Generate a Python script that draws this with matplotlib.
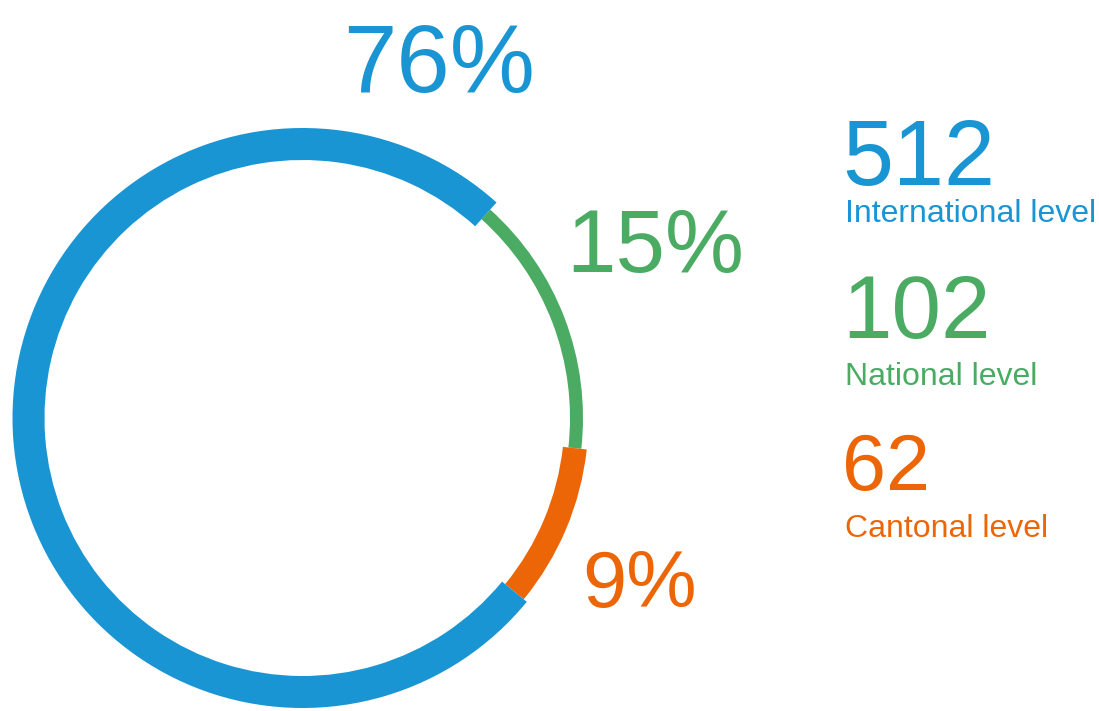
import matplotlib
matplotlib.use("Agg")
import matplotlib.pyplot as plt

categories = ["International level", "National level", "Cantonal level"]
counts = [512, 102, 62]
colors = ["#1a95d3", "#4bab63", "#ec6608"]
ring_widths = [32, 13, 24]  # pixel widths of each segment

plt.rcParams['font.family'] = ['Liberation Sans', 'DejaVu Sans']

W, H = 1099, 711
fig = plt.figure(figsize=(W / 100, H / 100), dpi=100)
ax = fig.add_axes([0, 0, 1, 1])

cx, cy = 302.5, H - 418
r_mid = 274

# order clockwise from start angle: national, cantonal, international
order = [1, 2, 0]
wedges, _ = ax.pie([counts[i] for i in order], colors=[colors[i] for i in order],
                   startangle=48, counterclock=False, center=(cx, cy), radius=r_mid,
                   frame=True)
ax.set_xlim(0, W)
ax.set_ylim(0, H)
ax.set_aspect('equal')
ax.axis('off')
for w, i in zip(wedges, order):
    w.set_radius(r_mid + ring_widths[i] / 2)
    w.set_width(ring_widths[i])
    w.set_linewidth(0)

total = sum(counts)
pct = [round(100 * c / total) for c in counts]

def ty(p):
    return H - p

# percentage labels
ax.text(343, ty(92), f"{pct[0]}%", color=colors[0], fontsize=69, ha='left', va='baseline')
ax.text(566, ty(272), f"{pct[1]}%", color=colors[1], fontsize=64, ha='left', va='baseline')
ax.text(582, ty(607), f"{pct[2]}%", color=colors[2], fontsize=57, ha='left', va='baseline')

# legend-like numbers
num_base = [185, 338, 490]
num_size = [66, 64, 57]
lab_base = [222, 385, 537]
for i in range(3):
    ax.text(842, ty(num_base[i]), str(counts[i]), color=colors[i], fontsize=num_size[i],
            ha='left', va='baseline')
    ax.text(845, ty(lab_base[i]), categories[i], color=colors[i], fontsize=23,
            ha='left', va='baseline')

fig.savefig("out.png", dpi=100)
